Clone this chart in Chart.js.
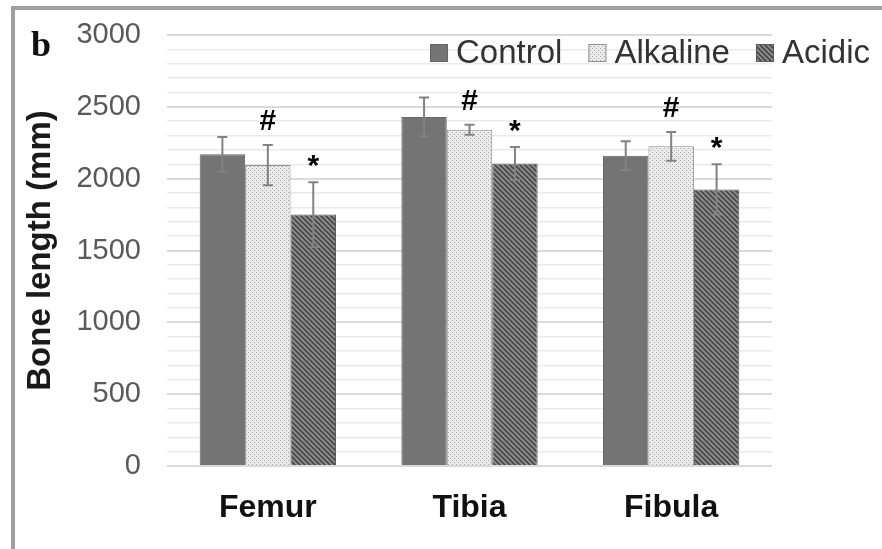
<!DOCTYPE html>
<html>
<head>
<meta charset="utf-8">
<script src="https://cdn.jsdelivr.net/npm/chart.js@4.4.0/dist/chart.umd.min.js"></script>
<style>
  html, body { margin: 0; padding: 0; background: #ffffff; }
  #wrap { position: relative; width: 882px; height: 549px; }
</style>
</head>
<body>
<div id="wrap"><canvas id="c" width="882" height="549"></canvas></div>
<script>
// Bone length per group (mean and SD), in mm
const bones = ['Femur', 'Tibia', 'Fibula'];
const seriesNames = ['Control', 'Alkaline', 'Acidic'];
const controlLength = [2170, 2430, 2160];
const alkalineLength = [2095, 2340, 2225];
const acidicLength = [1750, 2105, 1925];
const controlSD = [120, 135, 100];
const alkalineSD = [140, 35, 100];
const acidicSD = [225, 115, 175];
// significance marks drawn above the error bars
const controlMarks = ['', '', ''];
const alkalineMarks = ['#', '#', '#'];
const acidicMarks = ['*', '*', '*'];
const yTickLabels = ['0', '500', '1000', '1500', '2000', '2500', '3000'];

const FONT = '"Liberation Sans", Arial, Helvetica, sans-serif';

function dotPattern() {
  const c = document.createElement('canvas');
  c.width = 4; c.height = 4;
  const x = c.getContext('2d');
  x.fillStyle = '#ebebeb';
  x.fillRect(0, 0, 4, 4);
  x.fillStyle = '#a6a6a6';
  x.fillRect(0, 0, 1, 1);
  x.fillRect(2, 2, 1, 1);
  return x.createPattern(c, 'repeat');
}

function hatchPattern() {
  const s = 5;
  const c = document.createElement('canvas');
  c.width = s; c.height = s;
  const x = c.getContext('2d');
  x.fillStyle = '#8e8e8e';
  x.fillRect(0, 0, s, s);
  x.strokeStyle = '#474747';
  x.lineWidth = 1.6;
  x.beginPath();
  for (const k of [-s, 0, s]) {
    x.moveTo(k - 1, -1);
    x.lineTo(k + s + 1, s + 1);
  }
  x.stroke();
  return x.createPattern(c, 'repeat');
}

const fills = ['#747474', dotPattern(), hatchPattern()];
const borders = ['#666666', '#8e8e8e', '#5a5a5a'];

// frame lines and panel letter
const framePlugin = {
  id: 'frame',
  beforeDraw(chart) {
    const ctx = chart.ctx;
    ctx.save();
    ctx.fillStyle = '#ffffff';
    ctx.fillRect(0, 0, chart.width, chart.height);
    ctx.fillStyle = '#a0a0a0';
    ctx.fillRect(11, 6, chart.width - 11, 4);
    ctx.fillRect(11, 6, 4, chart.height - 6);
    ctx.restore();
  },
  afterDraw(chart) {
    const ctx = chart.ctx;
    ctx.save();
    ctx.fillStyle = '#111111';
    ctx.font = 'bold 36px "Liberation Serif", "Times New Roman", serif';
    ctx.textAlign = 'left';
    ctx.textBaseline = 'alphabetic';
    ctx.fillText('b', 31, 56);
    ctx.restore();
  }
};

// error bars and significance marks
const errorBarPlugin = {
  id: 'errorBars',
  afterDatasetsDraw(chart) {
    const ctx = chart.ctx;
    const y = chart.scales.y;
    chart.data.datasets.forEach((ds, di) => {
      const meta = chart.getDatasetMeta(di);
      meta.data.forEach((bar, i) => {
        const v = ds.data[i], e = ds.errors[i];
        const top = y.getPixelForValue(v + e);
        const bot = y.getPixelForValue(v - e);
        ctx.save();
        ctx.strokeStyle = '#828282';
        ctx.lineWidth = 2;
        ctx.beginPath();
        ctx.moveTo(bar.x, top); ctx.lineTo(bar.x, bot);
        ctx.moveTo(bar.x - 5, top); ctx.lineTo(bar.x + 5, top);
        ctx.moveTo(bar.x - 5, bot); ctx.lineTo(bar.x + 5, bot);
        ctx.stroke();
        const mark = ds.marks[i];
        if (mark) {
          ctx.font = 'bold 30px ' + FONT;
          ctx.fillStyle = '#000000';
          ctx.textAlign = 'center';
          ctx.textBaseline = 'alphabetic';
          const m = ctx.measureText(mark);
          const glyphBottom = top - 15;
          ctx.fillText(mark, bar.x, glyphBottom - m.actualBoundingBoxDescent);
        }
        ctx.restore();
      });
    });
  }
};

// legend row at the top right
const legendPlugin = {
  id: 'topLegend',
  afterDraw(chart) {
    const ctx = chart.ctx;
    const box = 18, gap = 8, spacing = 26;
    ctx.save();
    ctx.font = '33px ' + FONT;
    const widths = seriesNames.map(n => ctx.measureText(n).width);
    let total = 0;
    widths.forEach((w, i) => { total += box + gap + w + (i < widths.length - 1 ? spacing : 0); });
    let x = chart.width - 12 - total;
    const cy = chart.chartArea.top + 18;
    chart.data.datasets.forEach((ds, i) => {
      ctx.fillStyle = ds.backgroundColor;
      ctx.fillRect(x, cy - box / 2, box, box);
      ctx.strokeStyle = ds.borderColor;
      ctx.lineWidth = 1;
      ctx.strokeRect(x + 0.5, cy - box / 2 + 0.5, box - 1, box - 1);
      ctx.fillStyle = '#333333';
      ctx.textAlign = 'left';
      ctx.textBaseline = 'middle';
      ctx.fillText(seriesNames[i], x + box + gap, cy + 1);
      x += box + gap + widths[i] + spacing;
    });
    ctx.restore();
  }
};

const values = [controlLength, alkalineLength, acidicLength];
const errors = [controlSD, alkalineSD, acidicSD];
const marks = [controlMarks, alkalineMarks, acidicMarks];

new Chart(document.getElementById('c'), {
  type: 'bar',
  data: {
    labels: bones,
    datasets: seriesNames.map((name, i) => ({
      label: name,
      data: values[i],
      errors: errors[i],
      marks: marks[i],
      backgroundColor: fills[i],
      borderColor: borders[i],
      borderWidth: 1,
      categoryPercentage: 0.676,
      barPercentage: 1.0
    }))
  },
  options: {
    responsive: false,
    animation: false,
    devicePixelRatio: 1,
    layout: { padding: { left: 21, top: 35, right: 110, bottom: 0 } },
    plugins: {
      legend: { display: false },
      tooltip: { enabled: false }
    },
    scales: {
      x: {
        grid: { display: false, drawTicks: false },
        border: { display: false },
        ticks: {
          padding: 23,
          color: '#111111',
          font: { family: FONT, size: 32, weight: 'bold' }
        },
        afterFit(scale) { scale.height = 83; }
      },
      y: {
        min: 0,
        max: 3000,
        border: { display: false },
        grid: {
          drawTicks: false,
          color: c => (c.tick && c.tick.value % 500 === 0) ? '#dadada' : '#eaeaea',
          lineWidth: c => (c.tick && c.tick.value % 500 === 0) ? 2 : 1.5
        },
        ticks: {
          stepSize: 100,
          autoSkip: false,
          padding: 26,
          color: '#595959',
          font: { family: FONT, size: 29 },
          callback: v => (v % 500 === 0 ? yTickLabels[v / 500] : '')
        },
        title: {
          display: true,
          text: 'Bone length (mm)',
          color: '#1a1a1a',
          padding: { top: 0, bottom: 0 },
          font: { family: FONT, size: 33, weight: 'bold' }
        },
        afterFit(scale) {
          scale.width = 146;
          scale.paddingTop = 0;
          scale.paddingBottom = 0;
        }
      }
    }
  },
  plugins: [framePlugin, errorBarPlugin, legendPlugin]
});
</script>
</body>
</html>
